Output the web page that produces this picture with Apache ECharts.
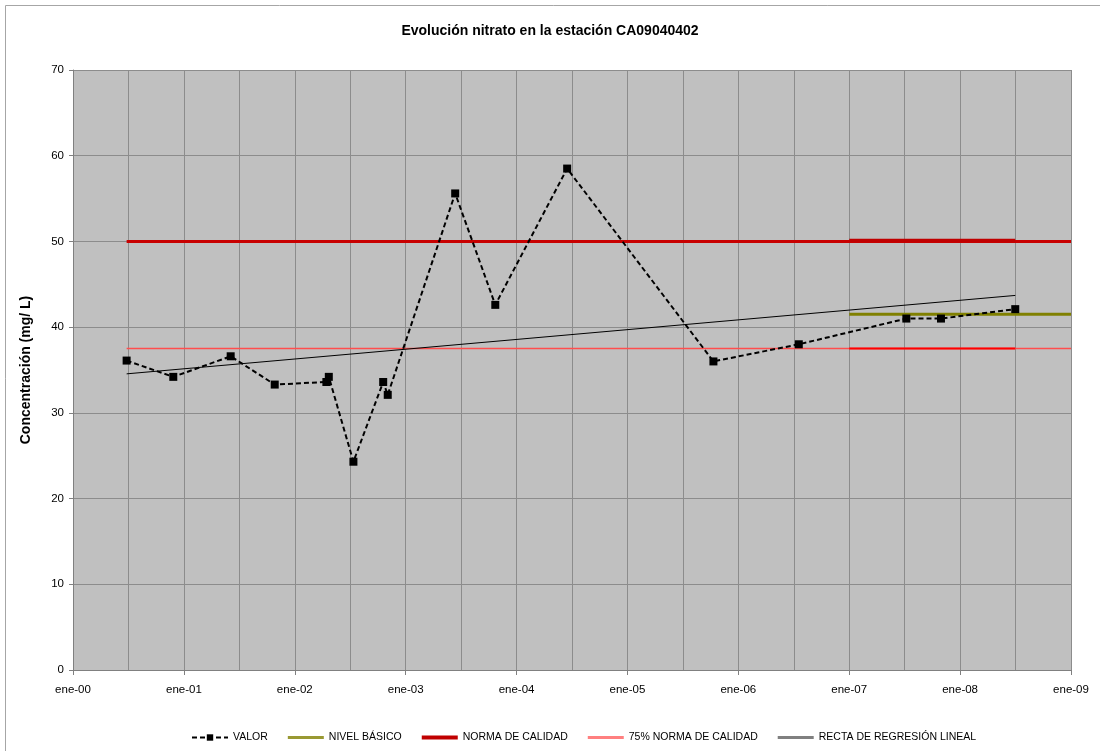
<!DOCTYPE html>
<html>
<head>
<meta charset="utf-8">
<script src="https://cdn.jsdelivr.net/npm/echarts@6/dist/echarts.min.js"></script>
<style>
html,body{margin:0;padding:0;background:#fff;}
#chart{width:1100px;height:751px;}
</style>
</head>
<body>
<div id="chart"></div>
<script>
// Sampling dates and nitrate concentrations (mg/L)
const sampleDates = ['2000-06-26','2000-11-27','2001-06-04','2001-10-27','2002-04-15','2002-04-23','2002-07-13','2002-10-19','2002-11-03','2003-06-13','2003-10-23','2004-06-16','2005-10-11','2006-07-19','2007-07-08','2007-10-30','2008-07-01'];
const valorValues = [36.1, 34.2, 36.6, 33.3, 33.6, 34.2, 24.3, 33.6, 32.1, 55.6, 42.6, 58.5, 36.0, 38.0, 41.0, 41.0, 42.1];

// Reference lines
const normaDates = ['2000-06-26','2009-01-01'];
const normaValues = [50, 50];
const normaOverlapDates = ['2007-01-01','2008-07-01'];
const normaOverlapValues = [50.1, 50.1];
const norma75Dates = ['2000-06-26','2009-01-01'];
const norma75Values = [37.5, 37.5];
const norma75OverlapDates = ['2007-01-01','2008-07-01'];
const norma75OverlapValues = [37.5, 37.5];
const nivelDates = ['2007-01-01','2009-01-01'];
const nivelValues = [41.5, 41.5];
const regresionDates = ['2000-06-26','2008-07-01'];
const regresionValues = [34.55, 43.7];

// Axis ticks
const xTickYears = [0,1,2,3,4,5,6,7,8,9];
const xTickLabels = ['ene-00','ene-01','ene-02','ene-03','ene-04','ene-05','ene-06','ene-07','ene-08','ene-09'];
const yTicks = [0,10,20,30,40,50,60,70];

function toYear(d){
  const dt = new Date(d + 'T00:00:00Z');
  const y = dt.getUTCFullYear();
  const start = Date.UTC(y,0,1), end = Date.UTC(y+1,0,1);
  return (y - 2000) + (dt.getTime() - start) / (end - start);
}
function pairs(dates, vals){ return dates.map((d,i)=>[toYear(d), vals[i]]); }

const FONT = "'Liberation Sans',Arial,sans-serif";
const LINE_ICON = 'path://M0,0H36V3H0Z';
const chart = echarts.init(document.getElementById('chart'), null, {renderer:'canvas'});
chart.setOption({
  animation:false,
  backgroundColor:'#ffffff',
  graphic:[{type:'rect', shape:{x:5.5,y:5.5,width:1200,height:900}, style:{fill:null, stroke:'#a6a6a6', lineWidth:1}, silent:true}],
  title:{
    text:'Evolución nitrato en la estación CA09040402',
    left:'center', top:19,
    textStyle:{fontFamily:FONT, fontSize:14, fontWeight:'bold', color:'#000'}
  },
  grid:{left:73, right:29, top:70, bottom:81, show:true, backgroundColor:'#c0c0c0', borderWidth:0},
  legend:{
    top:727, left:186,
    itemWidth:36, itemHeight:8, itemGap:20,
    textStyle:{fontFamily:FONT, fontSize:10.5, color:'#000'},
    data:[
      {name:'VALOR'},
      {name:'NIVEL BÁSICO', icon:LINE_ICON, itemStyle:{color:'#999933'}},
      {name:'NORMA DE CALIDAD', icon:'path://M0,0H36V4H0Z', itemStyle:{color:'#c00000'}},
      {name:'75% NORMA DE CALIDAD', icon:LINE_ICON, itemStyle:{color:'#ff8080'}},
      {name:'RECTA DE REGRESIÓN LINEAL', icon:LINE_ICON, itemStyle:{color:'#808080'}}
    ]
  },
  xAxis:{
    type:'value', min:0, max:9, interval:1,
    axisLine:{show:true, lineStyle:{color:'#808080', width:1}},
    axisTick:{show:true, length:5, lineStyle:{color:'#808080'}},
    axisLabel:{margin:14, fontFamily:FONT, fontSize:11.5, color:'#000',
      formatter:function(v){ const i = xTickYears.indexOf(Math.round(v)); return i>=0 ? xTickLabels[i] : ''; }},
    splitLine:{show:true, lineStyle:{color:'#8c8c8c', width:1}},
    minorTick:{show:false, splitNumber:2},
    minorSplitLine:{show:true, lineStyle:{color:'#8c8c8c', width:1}}
  },
  yAxis:{
    type:'value', min:yTicks[0], max:yTicks[yTicks.length-1], interval:10,
    name:'Concentración (mg/ L)', nameLocation:'middle', nameGap:40,
    nameTextStyle:{fontFamily:FONT, fontSize:14, fontWeight:'bold', color:'#000'},
    axisLine:{show:true, lineStyle:{color:'#808080', width:1}},
    axisTick:{show:true, length:4, lineStyle:{color:'#808080'}},
    axisLabel:{margin:9, fontFamily:FONT, fontSize:11.5, color:'#000'},
    splitLine:{show:true, lineStyle:{color:'#8c8c8c', width:1}}
  },
  series:[
    {name:'NORMA DE CALIDAD', type:'line', data:pairs(normaDates, normaValues), symbol:'none',
      lineStyle:{color:'#c80000', width:3}, itemStyle:{color:'#c00000'}, z:3},
    {name:'NORMA DE CALIDAD', type:'line', data:pairs(normaOverlapDates, normaOverlapValues), symbol:'none',
      lineStyle:{color:'#c00000', width:3.5}, itemStyle:{color:'#c00000'}, z:3},
    {name:'75% NORMA DE CALIDAD', type:'line', data:pairs(norma75Dates, norma75Values), symbol:'none',
      lineStyle:{color:'#ff4d4d', width:1.5}, itemStyle:{color:'#ff8080'}, z:3},
    {name:'75% NORMA DE CALIDAD', type:'line', data:pairs(norma75OverlapDates, norma75OverlapValues), symbol:'none',
      lineStyle:{color:'#ff0000', width:2}, itemStyle:{color:'#ff0000'}, z:3},
    {name:'NIVEL BÁSICO', type:'line', data:pairs(nivelDates, nivelValues), symbol:'none',
      lineStyle:{color:'#808000', width:3}, itemStyle:{color:'#808000'}, z:3},
    {name:'RECTA DE REGRESIÓN LINEAL', type:'line', data:pairs(regresionDates, regresionValues), symbol:'none',
      lineStyle:{color:'#000000', width:1}, itemStyle:{color:'#000000'}, z:4},
    {name:'VALOR', type:'line', data:pairs(sampleDates, valorValues),
      symbol:'rect', symbolSize:8,
      lineStyle:{color:'#000000', width:2, type:[5,3]}, itemStyle:{color:'#000000'}, z:5}
  ]
});
</script>
</body>
</html>
